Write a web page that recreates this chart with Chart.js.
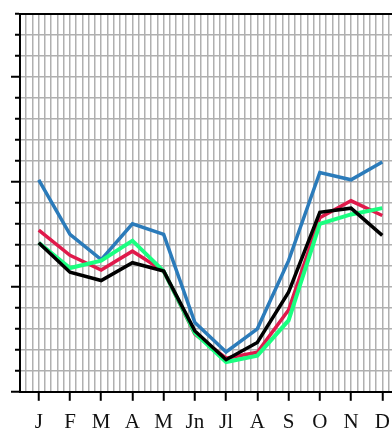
<!DOCTYPE html>
<html>
<head>
  <meta charset="UTF-8" />
  <script src="https://cdn.jsdelivr.net/npm/chart.js"></script>
  <style>
    html, body { margin: 0; padding: 0; background: #fff; overflow: hidden; }
    canvas { display: block; }
  </style>
</head>
<body>
  <canvas id="chart" width="410" height="445"></canvas>

  <script>
    // month labels and the four series (arbitrary units, no y labels in the original)
    const months = ['J', 'F', 'M', 'A', 'M', 'Jn', 'Jl', 'A', 'S', 'O', 'N', 'D'];
    const blueVals  = [10.1, 7.5, 6.3, 8.0, 7.5, 3.3, 1.9, 3.0, 6.25, 10.45, 10.1, 10.95];
    const redVals   = [7.7, 6.5, 5.8, 6.7, 5.75, 2.75, 1.6, 1.88, 3.9, 8.3, 9.1, 8.4];
    const greenVals = [7.1, 5.9, 6.25, 7.2, 5.75, 2.8, 1.42, 1.72, 3.4, 8.0, 8.45, 8.75];
    const blackVals = [7.1, 5.7, 5.3, 6.15, 5.75, 2.9, 1.53, 2.35, 4.75, 8.55, 8.75, 7.45];
    const majorY = [0, 5, 10, 15];

    const toPoints = vals => vals.map((v, i) => ({ x: i + 1, y: v }));
    const isInt = v => Math.abs(v - Math.round(v)) < 1e-6;

    const line = (vals, color, width) => ({
      data: toPoints(vals),
      borderColor: color,
      borderWidth: width,
      pointRadius: 0,
      tension: 0,
      fill: false
    });

    new Chart(document.getElementById('chart'), {
      type: 'line',
      data: {
        // first dataset is drawn on top
        datasets: [
          line(blackVals, '#000000', 3.5),
          line(greenVals, '#1aff80', 4),
          line(redVals, '#e0194b', 3.5),
          line(blueVals, '#2b7bba', 3.5)
        ]
      },
      options: {
        responsive: false,
        animation: false,
        layout: { padding: { left: 11, top: 14, right: 9, bottom: 1 } },
        plugins: { legend: { display: false }, tooltip: { enabled: false } },
        scales: {
          x: {
            type: 'linear',
            min: 0.4,
            max: 12.6,
            border: { color: '#000', width: 2 },
            grid: {
              color: '#b0b0b0',
              lineWidth: 1.5,
              tickLength: 9,
              tickWidth: 2,
              tickColor: ctx => isInt(ctx.tick.value) ? '#000' : 'rgba(0,0,0,0)'
            },
            ticks: {
              stepSize: 0.2,
              maxTicksLimit: 1000,
              autoSkip: false,
              maxRotation: 0,
              padding: 9,
              color: '#111',
              font: { family: '"Liberation Serif", serif', size: 21 },
              callback: v => isInt(v) ? (months[Math.round(v) - 1] || '') : ''
            }
          },
          xTop: {
            type: 'linear',
            position: 'top',
            min: 0.4,
            max: 12.6,
            border: { color: '#000', width: 2 },
            grid: { drawOnChartArea: false, drawTicks: false },
            ticks: { display: false }
          },
          y: {
            min: 0,
            max: 18,
            border: { color: '#000', width: 2 },
            grid: {
              color: '#b0b0b0',
              lineWidth: 1.5,
              tickLength: 9,
              tickWidth: 2,
              tickColor: '#000',
              // tick is stroked from the outer end: skip 4px so minor ticks stay short
              tickBorderDash: ctx => majorY.includes(ctx.tick.value) ? [] : [0, 4, 6, 50]
            },
            ticks: { display: false, stepSize: 1 }
          }
        }
      }
    });
  </script>
</body>
</html>
